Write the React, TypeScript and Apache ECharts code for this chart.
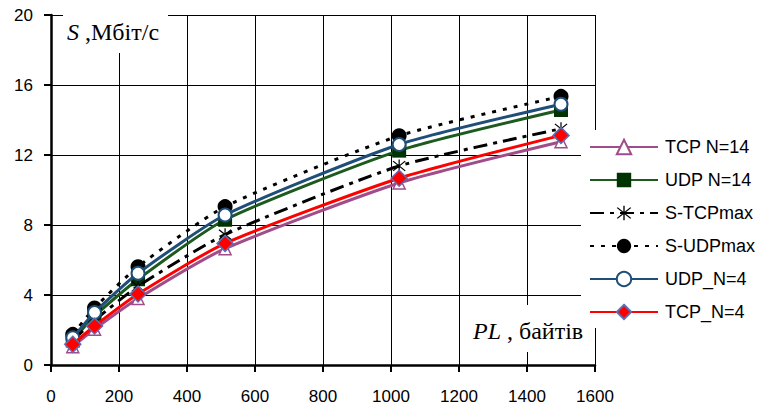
import React, { useEffect, useRef } from "react";
import * as echarts from "echarts";

// Packet payload length, bytes
const payloadBytes = [64, 128, 256, 512, 1024, 1500];

// Throughput, Mbit/s
const tcpN14 = [1.05, 2.05, 3.8, 6.65, 10.4, 12.76];
const udpN14 = [1.4, 2.8, 4.9, 8.3, 12.25, 14.57];
const sTcpMax = [1.4, 2.55, 4.5, 7.45, 11.37, 13.5];
const sUdpMax = [1.75, 3.26, 5.62, 9.05, 13.1, 15.35];
const udpN4 = [1.55, 3.0, 5.24, 8.57, 12.6, 14.9];
const tcpN4 = [1.18, 2.23, 4.06, 6.95, 10.67, 13.12];

const seriesNames = ["TCP N=14", "UDP N=14", "S-TCPmax", "S-UDPmax", "UDP_N=4", "TCP_N=4"];

const yLabel = { italic: "S", rest: " ,Мбіт/с" };
const xLabel = { italic: "PL", rest: " , байтів" };

// six-armed asterisk made of filled bars
const asteriskPath =
  "path://M-8,-100 L8,-100 L8,100 L-8,100 Z " +
  "M-74.5,-80.8 L85.5,69.2 L74.5,80.8 L-85.5,-69.2 Z " +
  "M-85.5,69.2 L74.5,-80.8 L85.5,-69.2 L-74.5,80.8 Z";

const pairs = (ys: number[]) => payloadBytes.map((x, i) => [x, ys[i]]);

const SANS = "Liberation Sans, Arial, sans-serif";
const SERIF = "Liberation Serif, Times New Roman, serif";

export default function App() {
  const ref = useRef<HTMLDivElement>(null);

  useEffect(() => {
    if (!ref.current) return;
    const chart = echarts.init(ref.current, undefined, { renderer: "svg" });

    const smooth = 0.2;
    const base = (name: string, data: number[], z: number) => ({
      name,
      type: "line",
      data: pairs(data),
      smooth,
      showAllSymbol: true,
      z,
    });

    chart.setOption({
      animation: false,
      backgroundColor: "#fff",
      grid: { left: 51, right: 162, top: 15, bottom: 49, containLabel: false },
      xAxis: {
        type: "value",
        min: 0,
        max: 1600,
        interval: 200,
        axisLine: { show: true, lineStyle: { color: "#000", width: 2.5 } },
        axisTick: { show: true, inside: false, length: 7, lineStyle: { color: "#000", width: 2 } },
        axisLabel: {
          margin: 23,
          color: "#000",
          fontSize: 17,
          fontFamily: SANS,
          formatter: (v: number) => String(v),
        },
        splitLine: { show: true, lineStyle: { color: "#000", width: 1 } },
      },
      yAxis: {
        type: "value",
        min: 0,
        max: 20,
        interval: 4,
        axisLine: { show: true, lineStyle: { color: "#000", width: 2.5 } },
        axisTick: { show: true, inside: false, length: 7, lineStyle: { color: "#000", width: 2 } },
        axisLabel: { margin: 18, color: "#000", fontSize: 17, fontFamily: SANS },
        splitLine: { show: true, lineStyle: { color: "#000", width: 1 } },
      },
      legend: {
        data: seriesNames,
        orient: "vertical",
        left: 581,
        top: 130,
        padding: [8, 4, 8, 8],
        itemWidth: 68,
        itemHeight: 18,
        itemGap: 15,
        z: 200,
        textStyle: { color: "#000", fontSize: 18, fontFamily: SANS, padding: [0, 0, 0, 2] },
      },
      graphic: [
        // white boxes behind the axis captions and the legend
        { type: "rect", z: 100, shape: { x: 63, y: 0, width: 105, height: 53 }, style: { fill: "#fff" } },
        { type: "rect", z: 100, shape: { x: 468, y: 305, width: 124, height: 47 }, style: { fill: "#fff" } },
        { type: "rect", z: 100, shape: { x: 581, y: 130, width: 176, height: 198 }, style: { fill: "#fff" } },
        {
          type: "text",
          z: 110,
          x: 67,
          y: 32,
          style: {
            text: `{i|${yLabel.italic}}{r|${yLabel.rest}}`,
            verticalAlign: "middle",
            rich: {
              i: { fontFamily: SERIF, fontStyle: "italic", fontSize: 24, fill: "#000" },
              r: { fontFamily: SERIF, fontSize: 24, fill: "#000" },
            },
          },
        },
        {
          type: "text",
          z: 110,
          x: 473,
          y: 331,
          style: {
            text: `{i|${xLabel.italic}}{r|${xLabel.rest}}`,
            verticalAlign: "middle",
            rich: {
              i: { fontFamily: SERIF, fontStyle: "italic", fontSize: 24, fill: "#000" },
              r: { fontFamily: SERIF, fontSize: 24, fill: "#000" },
            },
          },
        },
      ],
      series: [
        {
          ...base(seriesNames[0], tcpN14, 2),
          symbol: "triangle",
          symbolSize: 12,
          itemStyle: { color: "#fff", borderColor: "#A04C8A", borderWidth: 1.5 },
          lineStyle: { color: "#A04C8A", width: 3 },
        },
        {
          ...base(seriesNames[1], udpN14, 3),
          symbol: "rect",
          symbolSize: 14,
          itemStyle: { color: "#003300", borderColor: "#003300", borderWidth: 0 },
          lineStyle: { color: "#1E5A1E", width: 3 },
        },
        {
          ...base(seriesNames[2], sTcpMax, 4),
          symbol: asteriskPath,
          symbolSize: 13,
          itemStyle: { color: "#000" },
          lineStyle: { color: "#000", width: 3, type: [14, 6, 4, 6] },
        },
        {
          ...base(seriesNames[3], sUdpMax, 5),
          symbol: "circle",
          symbolSize: 15,
          itemStyle: { color: "#000" },
          lineStyle: { color: "#000", width: 3, type: [4, 7] },
        },
        {
          ...base(seriesNames[4], udpN4, 6),
          symbol: "circle",
          symbolSize: 13,
          itemStyle: { color: "#fff", borderColor: "#1F4E79", borderWidth: 2 },
          lineStyle: { color: "#1F4E79", width: 3 },
        },
        {
          ...base(seriesNames[5], tcpN4, 7),
          symbol: "diamond",
          symbolSize: 16,
          itemStyle: { color: "#FF0000", borderColor: "#5B6FB5", borderWidth: 1.5 },
          lineStyle: { color: "#FF0000", width: 3 },
        },
      ],
    });

    return () => chart.dispose();
  }, []);

  return <div ref={ref} style={{ width: 757, height: 414, position: "absolute", left: 0, top: 0 }} />;
}
